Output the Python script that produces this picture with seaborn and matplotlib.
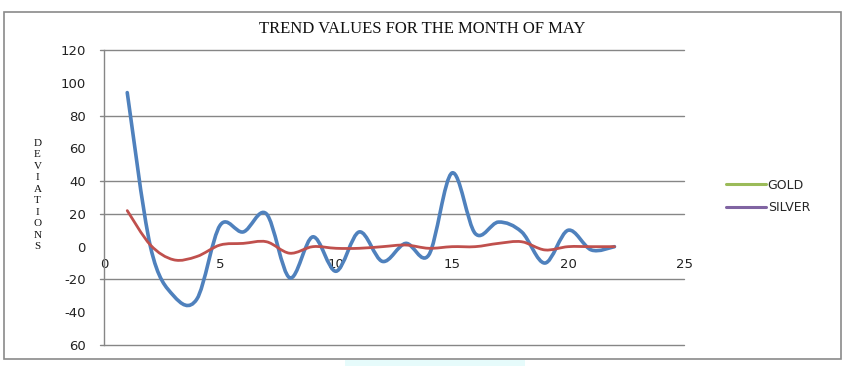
import numpy as np
import matplotlib
matplotlib.use("Agg")
import matplotlib.pyplot as plt
import seaborn as sns
from matplotlib.path import Path
from matplotlib.patches import PathPatch, Rectangle
from matplotlib.lines import Line2D

# values (one point per day, x = 1..22)
days = list(range(1, 23))
blue_values = [94, 0, -30, -32, 13, 9, 20, -19, 6, -15, 9, -9, 2, -5, 45, 8, 15, 9, -10, 10, -2, 0]
red_values = [22, 1, -8, -6, 1, 2, 3, -4, 0, -1, -1, 0, 1, -1, 0, 0, 2, 3, -2, 0, 0, 0]
legend_names = ["GOLD", "SILVER"]
y_ticks = [120, 100, 80, 60, 40, 20, 0, -20, -40, -60]
y_tick_labels = ["120", "100", "80", "60", "40", "20", "0", "-20", "-40", "60"]
x_ticks = [0, 5, 10, 15, 20, 25]
grid_levels = [120, 80, 40, 20, -20, -60]

BLUE = "#4F81BD"
RED = "#C0504D"
GREEN = "#9BBB59"
PURPLE = "#8064A2"
GRID = "#868686"


def smooth_path(xs, ys):
    # Excel-like smoothed line: cubic bezier segments through every point
    pts = np.column_stack([xs, ys]).astype(float)
    ext = np.vstack([pts[0], pts, pts[-1]])
    verts = [tuple(pts[0])]
    codes = [Path.MOVETO]
    for i in range(len(pts) - 1):
        p0, p1, p2, p3 = ext[i], ext[i + 1], ext[i + 2], ext[i + 3]
        c1 = p1 + (p2 - p0) / 6.0
        c2 = p2 - (p3 - p1) / 6.0
        verts += [tuple(c1), tuple(c2), tuple(p2)]
        codes += [Path.CURVE4] * 3
    return Path(verts, codes)


sns.set_theme(style="white")
plt.rcParams["font.family"] = ["DejaVu Sans"]

fig = plt.figure(figsize=(8.5, 3.66), dpi=100)
ax = fig.add_axes([0.1224, 0.0574, 0.6824, 0.806])

ax.set_xlim(0, 25)
ax.set_ylim(-60, 120)

for lvl in grid_levels:
    ax.axhline(lvl, xmin=-0.007, xmax=1, color=GRID, lw=1.0, clip_on=False, zorder=1)

ax.add_patch(PathPatch(smooth_path(days, blue_values), fill=False, edgecolor=BLUE,
                       lw=2.6, capstyle="round", joinstyle="round", zorder=3))
ax.add_patch(PathPatch(smooth_path(days, red_values), fill=False, edgecolor=RED,
                       lw=2.0, capstyle="round", joinstyle="round", zorder=4))

# axes styling
for side in ["top", "right"]:
    ax.spines[side].set_visible(False)
ax.spines["left"].set_color(GRID)
ax.spines["left"].set_linewidth(1.0)
ax.spines["bottom"].set_position(("data", 0))
ax.spines["bottom"].set_visible(False)

ax.set_yticks(y_ticks)
ax.set_yticklabels(y_tick_labels)
ax.set_xticks(x_ticks)
ax.set_xticklabels([str(v) for v in x_ticks])
ax.tick_params(axis="y", length=0, pad=13, labelsize=9.5, colors="#222222")
ax.tick_params(axis="x", direction="out", length=3, width=0.8, color="#bbbbbb",
               pad=5, labelsize=9.5, labelcolor="#222222")
ax.grid(False)

fig.text(0.497, 0.921, "TREND VALUES FOR THE MONTH OF MAY", ha="center", va="center",
         fontsize=12, family="Liberation Serif", color="#111111")
fig.text(0.044, 0.467, "\n".join("DEVIATIONS"), ha="center", va="center",
         fontsize=8.0, family="Liberation Serif", linespacing=1.36, color="#111111")

handles = [Line2D([0], [0], color=GREEN, lw=2.2), Line2D([0], [0], color=PURPLE, lw=2.2)]
fig.legend(handles, legend_names, loc="upper left", bbox_to_anchor=(0.848, 0.525),
           frameon=False, fontsize=9, handlelength=3.2, handletextpad=0.15,
           labelspacing=0.75, borderaxespad=0)

# outer chart border
fig.patches.append(Rectangle((0.0047, 0.019), 0.985, 0.948, transform=fig.transFigure,
                             fill=False, edgecolor="#8a8a8a", lw=1.2))
fig.patches.append(Rectangle((0.406, 0.0), 0.212, 0.016, transform=fig.transFigure,
                             facecolor="#e6fbfb", edgecolor="none"))

fig.savefig("out.png", dpi=100)
